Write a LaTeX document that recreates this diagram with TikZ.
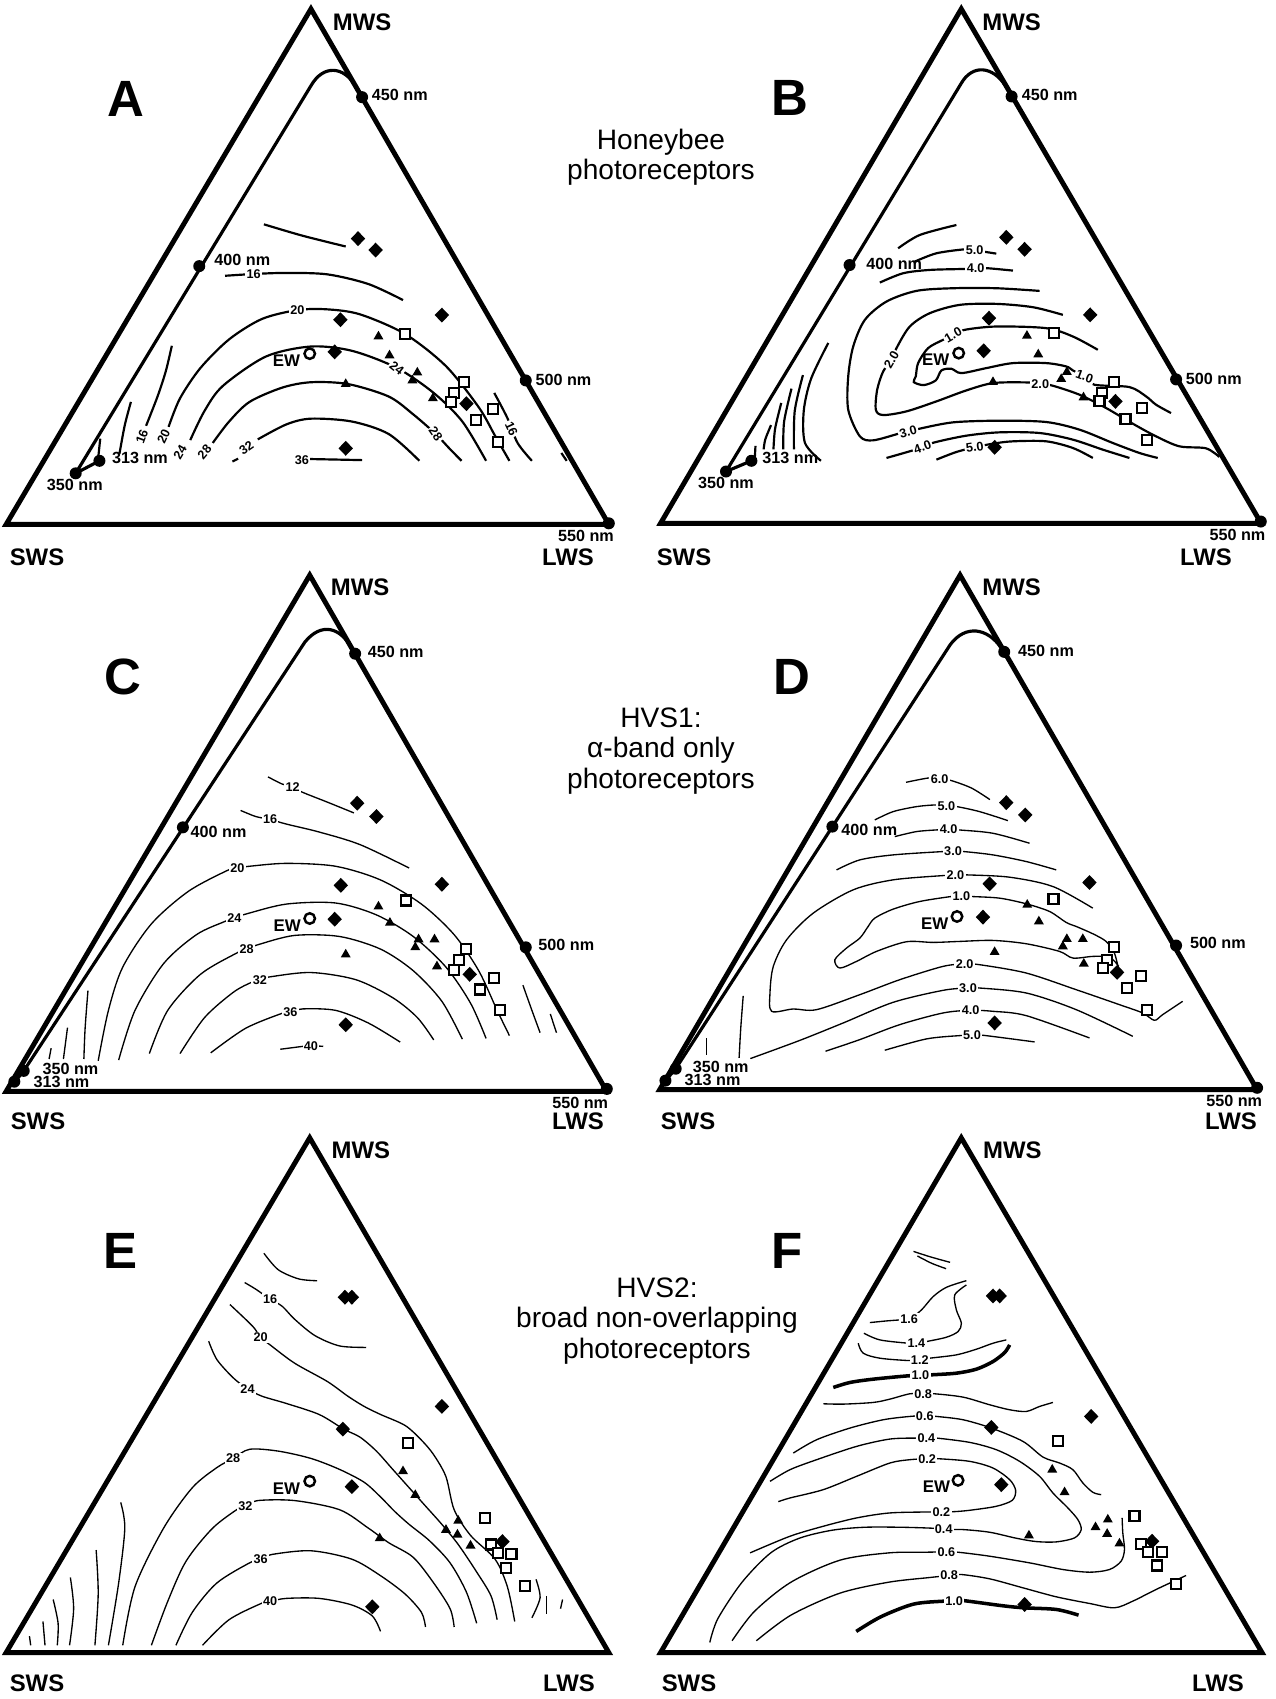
\documentclass[tikz,border=0pt]{standalone}
\usepackage{fontspec}
\setmainfont{Liberation Sans}
\usetikzlibrary{shapes.geometric}
\tikzset{
	frame/.style={line width=1.4pt, line join=miter},
	locus/.style={line width=0.9pt, line join=round},
	iso/.style={line width=0.38pt},
	isob/.style={line width=0.62pt},
	isoh/.style={line width=1pt},
	wdot/.style={circle, fill, inner sep=0pt, minimum size=0.12cm},
	dmd/.style={diamond, fill, inner sep=0pt, minimum width=0.15cm, minimum height=0.155cm},
	tri/.style={regular polygon, regular polygon sides=3, fill, inner sep=0pt, minimum size=0.115cm},
	sqr/.style={rectangle, draw, fill=white, line width=0.6pt, inner sep=0pt, minimum size=0.1cm},
	ewc/.style={circle, draw, fill=white, line width=0.7pt, inner sep=0pt, minimum size=0.105cm},
	ewl/.style={font=\bfseries\fontsize{4.8}{5}\selectfont, inner sep=0pt},
	vert/.style={font=\bfseries\fontsize{6.8}{7}\selectfont, inner sep=0pt},
	nm/.style={font=\bfseries\fontsize{4.6}{5}\selectfont, inner sep=0.5pt},
	clab/.style={font=\bfseries\fontsize{3.6}{4}\selectfont, fill=white, inner sep=0.4pt},
	tag/.style={font=\bfseries\fontsize{14.5}{16}\selectfont, inner sep=0pt},
	caption/.style={align=center, font=\fontsize{8}{8.6}\selectfont},
	rowtop/.style={x=0.004082cm, y=-0.003571cm},
	rowmid/.style={x=0.004082cm, y=-0.003603cm},
	rowbot/.style={x=0.004082cm, y=-0.003661cm},
	fine/.style={x=0.003333cm, y=-0.003333cm}
}
\begin{document}
\begin{tikzpicture}[x=0.01cm, y=-0.01cm]
	\useasboundingbox (0,0) rectangle (1276,1699);

	\node[caption] (cap-top) at (661,157) {Honeybee\\photoreceptors};
	\node[caption] (cap-mid) at (661,751) {HVS1:\\α-band only\\photoreceptors};
	\node[caption] (cap-bot) at (657,1321) {HVS2:\\broad non-overlapping\\photoreceptors};

	\node[vert] (A-sws) at (37,557) {SWS};
	\node[vert] (A-lws) at (568,557) {LWS};
	\node[vert] (B-sws) at (684,557) {SWS};
	\node[vert] (B-lws) at (1206,557) {LWS};
	\node[vert] (C-sws) at (38,1121) {SWS};
	\node[vert] (C-lws) at (578,1121) {LWS};
	\node[vert] (D-sws) at (688,1121) {SWS};
	\node[vert] (D-lws) at (1231,1121) {LWS};
	\node[vert] (E-sws) at (37,1683) {SWS};
	\node[vert] (E-lws) at (569,1683) {LWS};
	\node[vert] (F-sws) at (689,1683) {SWS};
	\node[vert] (F-lws) at (1218,1683) {LWS};

	% A
	\begin{scope}[shift={(0,0)}, rowtop]
		\draw[frame] (15,1468) -- (1488,1468) -- (760,25) -- cycle;
		\draw[locus] (243,1290) -- (185,1325) -- (760,240) .. controls (790,180) and (840,185) .. (868,240) -- (885,272);
		\draw[isob] plot[smooth] coordinates {(645,628) (740,660) (845,690)};
		\draw[isob] plot[smooth] coordinates {(550,772) (620,767) (700,764) (800,768) (900,795) (985,840)};
		\draw[isob] plot[smooth] coordinates {(420,968) (405,1040) (385,1110) (357,1192)};
		\draw[isob] plot[smooth] coordinates {(1208,1100) (1240,1170) (1265,1240) (1300,1290)};
		\draw[isob] plot[smooth] coordinates {(320,1125) (305,1190) (292,1270)};
		\draw[isob] (1372,1268) -- (1385,1290);
		\draw[isob] (245,1228) -- (240,1282);
		\draw[isob] plot[smooth] coordinates {(412,1195) (440,1115) (490,1030) (560,950) (640,893) (727,868) (800,866) (880,880) (990,935) (1090,1025) (1170,1140) (1210,1220) (1245,1290)};
		\draw[isob] plot[smooth] coordinates {(465,1232) (500,1150) (545,1080) (650,998) (760,970) (860,982) (970,1030) (1060,1100) (1130,1180) (1188,1290)};
		\draw[isob] plot[smooth] coordinates {(520,1240) (560,1180) (610,1125) (690,1085) (760,1070) (850,1075) (950,1110) (1010,1160) (1065,1215) (1098,1255) (1128,1290)};
		\draw[isob] plot[smooth] coordinates {(630,1230) (700,1188) (760,1172) (860,1180) (950,1215) (1025,1290)};
		\draw[isob] (568,1292) -- (582,1284);
		\draw[isob] (758,1285) -- (885,1288);
		\node[clab] (A-c16a) at (620,768) {16};
		\node[clab, rotate=70] (A-c16b) at (347,1222) {16};
		\node[clab, rotate=-65] (A-c16c) at (1250,1200) {16};
		\node[clab] (A-c20a) at (727,869) {20};
		\node[clab, rotate=65] (A-c20b) at (400,1222) {20};
		\node[clab, rotate=60] (A-c24a) at (440,1266) {24};
		\node[clab, rotate=-38] (A-c24b) at (970,1030) {24};
		\node[clab, rotate=50] (A-c28a) at (500,1265) {28};
		\node[clab, rotate=-55] (A-c28b) at (1065,1215) {28};
		\node[clab, rotate=35] (A-c32) at (602,1254) {32};
		\node[clab] (A-c36) at (738,1287) {36};
		\foreach \x/\y/\n in {185/1325/350, 243/1290/313, 487/745/400, 885/272/450, 1285/1065/500, 1488/1465/550}
			\node[wdot] (A-\n) at (\x,\y) {};
		\node[nm, anchor=west] (A-l450) at (903,267) {450 nm};
		\node[nm, anchor=west] (A-l400) at (518,727) {400 nm};
		\node[nm, anchor=west] (A-l500) at (1303,1063) {500 nm};
		\node[nm, anchor=west] (A-l313) at (268,1283) {313 nm};
		\node[nm] (A-l350) at (183,1357) {350 nm};
		\node[nm] (A-l550) at (1432,1500) {550 nm};
		\node[vert] (A-mws) at (885,62) {MWS};
		\node[tag] (A-tag) at (307,278) {A};
		\foreach \x/\y [count=\i] in {875/668, 918/700, 1080/882, 832/895, 818/985, 1140/1130, 845/1255}
			\node[dmd] (A-d\i) at (\x,\y) {};
		\foreach \x/\y [count=\i] in {925/942, 952/995, 1020/1043, 1008/1065, 845/1075, 1058/1115}
			\node[tri] (A-t\i) at (\x,\y) {};
		\foreach \x/\y [count=\i] in {990/936, 1135/1070, 1110/1100, 1103/1125, 1205/1145, 1163/1175, 1218/1237}
			\node[sqr] (A-s\i) at (\x,\y) {};
		\node[ewc] (A-ew) at (757,990) {};
		\node[ewl] (A-ewl) at (700,1010) {EW};
	\end{scope}

	% B
	\begin{scope}[shift={(636,0)}, rowtop]
		\draw[frame] (60,1465) -- (1528,1465) -- (795,25) -- cycle;
		\draw[locus] (282,1290) -- (220,1320) -- (794,235) .. controls (822,178) and (872,185) .. (903,240) -- (918,270);
		\draw[isob] (292,1248) -- (290,1290);
		\draw[isob] plot[smooth] coordinates {(330,1190) (316,1230) (312,1258)};
		\draw[isob] plot[smooth] coordinates {(355,1128) (340,1200) (336,1258)};
		\draw[isob] plot[smooth] coordinates {(380,1088) (362,1180) (360,1258)};
		\draw[isob] plot[smooth] coordinates {(408,1050) (388,1150) (386,1258)};
		\draw[isob] plot[smooth] coordinates {(470,960) (428,1060) (410,1150) (413,1240) (452,1290)};
		\foreach \x/\y/\n in {220/1320/350, 282/1290/313, 522/742/400, 918/270/450, 1320/1062/500, 1527/1460/550}
			\node[wdot] (B-\n) at (\x,\y) {};
		\node[nm, anchor=west] (B-l450) at (937,265) {450 nm};
		\node[nm, anchor=west] (B-l400) at (557,740) {400 nm};
		\node[nm, anchor=west] (B-l500) at (1338,1060) {500 nm};
		\node[nm, anchor=west] (B-l313) at (303,1282) {313 nm};
		\node[nm] (B-l350) at (220,1352) {350 nm};
		\node[nm] (B-l550) at (1470,1498) {550 nm};
		\node[vert] (B-mws) at (918,62) {MWS};
		\node[tag] (B-tag) at (375,275) {B};
	\end{scope}
	\begin{scope}[shift={(780,220)}, fine]
		\draw[isob] plot[smooth] coordinates {(355,85) (420,45) (530,15)};
		\draw[isob] plot[smooth] coordinates {(405,125) (470,100) (555,88) (585,90) (612,95) (650,101)};
		\draw[isob] plot[smooth] coordinates {(300,188) (370,160) (450,150) (555,147) (588,145) (625,145) (700,152)};
		\draw[isob] plot[smooth] coordinates {(780,213) (650,205) (520,205) (410,213) (320,245) (255,300) (220,380) (205,470) (205,570) (240,650) (280,662) (360,641) (385,636) (415,628) (520,608) (660,603) (800,607) (900,630) (1000,670) (1080,700) (1135,715)};
		\draw[isob] plot[smooth] coordinates {(850,285) (760,262) (650,252) (540,255) (450,280) (390,320) (350,385) (335,420) (310,455) (292,510) (288,570) (310,586) (380,575) (470,545) (560,512) (640,490) (740,488) (782,492) (820,498) (900,525) (980,565) (1060,612) (1130,650) (1200,680) (1280,686) (1320,712)};
		\draw[isob] plot[smooth] coordinates {(955,390) (880,350) (800,325) (650,320) (555,330) (520,345) (490,360) (445,385) (415,430) (408,470) (402,487) (432,496) (468,482) (485,452) (515,447) (545,460) (620,445) (700,430) (800,430) (860,440) (880,452) (915,470) (945,495) (1050,502) (1100,530) (1130,555) (1175,580)};
		\draw[isob] plot[smooth] coordinates {(320,715) (400,692) (428,682) (465,668) (560,648) (660,638) (780,640) (880,660) (970,690) (1050,715)};
		\draw[isob] plot[smooth] coordinates {(470,720) (530,697) (585,683) (640,672) (700,665) (800,665) (880,685) (940,715)};
		\node[clab] (B-c5a) at (585,90) {5.0};
		\node[clab] (B-c4a) at (588,145) {4.0};
		\node[clab, rotate=15] (B-c3) at (385,636) {3.0};
		\node[clab, rotate=60] (B-c2a) at (335,420) {2.0};
		\node[clab] (B-c2b) at (782,492) {2.0};
		\node[clab, rotate=30] (B-c1a) at (520,345) {1.0};
		\node[clab, rotate=-20] (B-c1b) at (915,470) {1.0};
		\node[clab, rotate=20] (B-c4b) at (428,682) {4.0};
		\node[clab, rotate=8] (B-c5b) at (585,683) {5.0};
		\foreach \x/\y [count=\i] in {680/52, 735/88, 932/285, 628/295, 612/393, 1008/545, 645/683}
			\node[dmd] (B-d\i) at (\x,\y) {};
		\foreach \x/\y [count=\i] in {742/348, 776/404, 862/457, 845/478, 640/487, 912/533}
			\node[tri] (B-t\i) at (\x,\y) {};
		\foreach \x/\y [count=\i] in {822/340, 1003/487, 968/520, 960/543, 1088/565, 1038/598, 1103/662}
			\node[sqr] (B-s\i) at (\x,\y) {};
		\node[ewc] (B-ew) at (537,400) {};
		\node[ewl] (B-ewl) at (468,420) {EW};
	\end{scope}

	% C
	\begin{scope}[shift={(0,560)}, rowmid]
		\draw[frame] (15,1475) -- (1483,1475) -- (757,42) -- cycle;
		\draw[locus] (35,1450) -- (58,1418) -- (745,228) .. controls (785,172) and (832,185) .. (861,248) -- (868,260);
		\draw[iso] plot[smooth] coordinates {(655,602) (690,622) (715,630) (740,645) (800,672) (865,702)};
		\draw[iso] plot[smooth] coordinates {(588,695) (625,712) (660,720) (700,733) (780,755) (880,790) (1000,855)};
		\draw[iso] plot[smooth] coordinates {(240,1390) (265,1250) (300,1130) (370,1010) (460,920) (555,862) (580,855) (610,850) (700,842) (820,850) (930,888) (1030,955) (1110,1040) (1170,1140) (1215,1250) (1245,1320)};
		\draw[iso] plot[smooth] coordinates {(290,1388) (330,1250) (400,1120) (480,1040) (550,1003) (573,993) (600,983) (700,955) (820,952) (920,985) (1010,1045) (1090,1130) (1150,1230) (1188,1328)};
		\draw[iso] plot[smooth] coordinates {(365,1370) (410,1250) (490,1150) (580,1090) (603,1080) (630,1068) (720,1042) (830,1045) (930,1080) (1010,1140) (1080,1225) (1130,1330)};
		\draw[iso] plot[smooth] coordinates {(440,1370) (500,1270) (570,1200) (615,1172) (635,1165) (660,1157) (760,1145) (870,1165) (960,1215) (1020,1270) (1060,1332)};
		\draw[iso] plot[smooth] coordinates {(515,1368) (600,1300) (690,1258) (710,1255) (740,1246) (820,1250) (900,1285) (978,1338)};
		\draw[iso] plot[smooth] coordinates {(685,1358) (740,1350) (760,1348) (790,1350)};
		\draw[iso] plot[smooth] coordinates {(215,1195) (208,1300) (205,1385)};
		\draw[iso] (165,1298) -- (155,1385);
		\draw[iso] (125,1355) -- (120,1385);
		\draw[iso] plot[smooth] coordinates {(1278,1180) (1300,1250) (1320,1312)};
		\draw[iso] (1345,1260) -- (1360,1312);
		\node[clab] (C-c12) at (715,630) {12};
		\node[clab] (C-c16) at (660,720) {16};
		\node[clab] (C-c20) at (580,855) {20};
		\node[clab] (C-c24) at (573,993) {24};
		\node[clab] (C-c28) at (603,1080) {28};
		\node[clab] (C-c32) at (635,1165) {32};
		\node[clab] (C-c36) at (710,1255) {36};
		\node[clab] (C-c40) at (760,1348) {40};
		\foreach \x/\y/\n in {58/1418/350, 35/1448/313, 447/742/400, 868/260/450, 1285/1075/500, 1483/1468/550}
			\node[wdot] (C-\n) at (\x,\y) {};
		\node[nm, anchor=west] (C-l450) at (893,255) {450 nm};
		\node[nm, anchor=west] (C-l400) at (460,755) {400 nm};
		\node[nm, anchor=west] (C-l500) at (1310,1068) {500 nm};
		\node[nm, anchor=west] (C-l350) at (98,1413) {350 nm};
		\node[nm, anchor=west] (C-l313) at (76,1450) {313 nm};
		\node[nm] (C-l550) at (1418,1508) {550 nm};
		\node[vert] (C-mws) at (880,75) {MWS};
		\node[tag] (C-tag) at (300,325) {C};
		\foreach \x/\y [count=\i] in {873/675, 920/712, 1080/900, 833/903, 818/997, 1148/1150, 845/1290}
			\node[dmd] (C-d\i) at (\x,\y) {};
		\foreach \x/\y [count=\i] in {925/962, 953/1007, 1023/1053, 1062/1053, 1015/1075, 845/1095, 1068/1128}
			\node[tri] (C-t\i) at (\x,\y) {};
		\foreach \x/\y [count=\i] in {993/945, 1140/1080, 1122/1110, 1110/1138, 1208/1160, 1173/1192, 1222/1250}
			\node[sqr] (C-s\i) at (\x,\y) {};
		\node[ewc] (C-ew) at (757,995) {};
		\node[ewl] (C-ewl) at (702,1015) {EW};
	\end{scope}

	% D
	\begin{scope}[shift={(636,560)}, rowmid]
		\draw[frame] (58,1470) -- (1518,1470) -- (792,42) -- cycle;
		\draw[locus] (72,1445) -- (97,1412) -- (768,235) .. controls (805,178) and (860,188) .. (893,245) -- (900,255);
		\draw[iso] (172,1328) -- (172,1375);
		\draw[iso] plot[smooth] coordinates {(262,1210) (256,1300) (252,1382)};
		\draw[iso] plot[smooth] coordinates {(660,617) (715,605) (742,607) (770,612) (820,633) (865,665)};
		\node[clab] (D-c6) at (742,607) {6.0};
		\foreach \x/\y/\n in {97/1412/350, 72/1445/313, 480/740/400, 900/255/450, 1320/1070/500, 1518/1465/550}
			\node[wdot] (D-\n) at (\x,\y) {};
		\node[nm, anchor=west] (D-l450) at (928,252) {450 nm};
		\node[nm, anchor=west] (D-l400) at (496,748) {400 nm};
		\node[nm, anchor=west] (D-l500) at (1348,1062) {500 nm};
		\node[nm, anchor=west] (D-l350) at (133,1408) {350 nm};
		\node[nm, anchor=west] (D-l313) at (113,1443) {313 nm};
		\node[nm] (D-l550) at (1462,1502) {550 nm};
		\node[vert] (D-mws) at (918,75) {MWS};
		\node[tag] (D-tag) at (380,325) {D};
	\end{scope}
	\begin{scope}[shift={(760,780)}, fine]
		\draw[iso] plot[smooth] coordinates {(345,120) (400,95) (470,80) (525,75) (560,77) (592,80) (660,95) (745,122)};
		\draw[iso] plot[smooth] coordinates {(405,170) (470,155) (530,150) (567,148) (598,150) (700,160) (810,190)};
		\draw[iso] plot[smooth] coordinates {(230,270) (300,240) (400,225) (550,215) (580,215) (612,215) (700,225) (800,245) (890,270)};
		\draw[iso] plot[smooth] coordinates {(1000,385) (880,320) (750,292) (620,285) (587,285) (552,287) (400,300) (280,330) (160,400) (80,480) (40,560) (30,640) (35,695) (100,688) (170,690) (300,645) (420,600) (550,560) (615,553) (660,555) (800,580) (950,630) (1080,675) (1150,700) (1185,722) (1210,705) (1270,665)};
		\draw[iso] plot[smooth] coordinates {(1080,580) (1065,520) (1040,485) (1000,462) (950,440) (920,428) (870,395) (800,372) (720,355) (635,350) (605,348) (575,350) (480,365) (400,388) (345,415) (325,440) (300,475) (260,505) (225,540) (240,565) (290,545) (350,515) (440,486) (520,488) (600,485) (700,482) (800,492) (900,515) (940,535) (1000,530) (1050,532) (1078,560)};
		\draw[iso] plot[smooth] coordinates {(-29,837) (118,783) (250,730) (400,668) (550,632) (625,625) (660,625) (800,640) (950,690) (1120,770)};
		\draw[iso] plot[smooth] coordinates {(197,815) (300,780) (420,735) (550,700) (633,692) (700,695) (800,708) (990,775)};
		\draw[iso] plot[smooth] coordinates {(375,812) (500,778) (600,768) (637,767) (670,767) (825,787)};
		\node[clab] (D-c5a) at (560,77) {5.0};
		\node[clab] (D-c4a) at (567,148) {4.0};
		\node[clab] (D-c3a) at (580,215) {3.0};
		\node[clab] (D-c2a) at (587,285) {2.0};
		\node[clab] (D-c1) at (605,348) {1.0};
		\node[clab] (D-c2b) at (615,553) {2.0};
		\node[clab] (D-c3b) at (625,625) {3.0};
		\node[clab] (D-c4b) at (633,692) {4.0};
		\node[clab] (D-c5b) at (637,767) {5.0};
		\foreach \x/\y [count=\i] in {740/68, 797/105, 990/308, 690/312, 670/412, 1073/578, 705/730}
			\node[dmd] (D-d\i) at (\x,\y) {};
		\foreach \x/\y [count=\i] in {803/375, 838/425, 922/478, 970/478, 910/500, 705/517, 973/552}
			\node[tri] (D-t\i) at (\x,\y) {};
		\foreach \x/\y [count=\i] in {882/357, 1063/503, 1043/540, 1030/565, 1145/590, 1103/625, 1163/690}
			\node[sqr] (D-s\i) at (\x,\y) {};
		\node[ewc] (D-ew) at (592,410) {};
		\node[ewl] (D-ewl) at (525,432) {EW};
	\end{scope}

	% E
	\begin{scope}[shift={(0,1125)}, rowbot]
		\draw[frame] (15,1440) -- (1488,1440) -- (757,35) -- cycle;
		\draw[iso] plot[smooth] coordinates {(645,350) (680,395) (730,420) (775,425)};
		\draw[iso] plot[smooth] coordinates {(598,430) (625,448) (660,475) (690,495) (720,530) (770,575) (830,603) (895,607)};
		\draw[iso] plot[smooth] coordinates {(562,490) (600,530) (622,555) (637,580) (660,600) (720,650) (800,700) (850,740) (890,768) (930,790) (990,820) (1030,860) (1060,900) (1090,960) (1110,1050) (1150,1120) (1210,1185) (1240,1260) (1258,1355)};
		\draw[iso] plot[smooth] coordinates {(510,590) (530,640) (570,690) (605,720) (640,740) (700,760) (780,790) (840,830) (880,852) (920,890) (960,940) (1000,990) (1040,1040) (1080,1090) (1120,1145) (1165,1220) (1200,1285) (1215,1350)};
		\draw[iso] plot[smooth] coordinates {(300,1420) (330,1260) (400,1100) (470,990) (530,935) (570,910) (610,885) (680,890) (760,910) (830,940) (890,975) (930,1015) (965,1055) (1000,1090) (1050,1135) (1100,1195) (1140,1275) (1165,1360)};
		\draw[iso] plot[smooth] coordinates {(370,1420) (410,1300) (455,1190) (520,1100) (585,1045) (600,1040) (630,1025) (720,1025) (830,1050) (900,1100) (950,1140) (1010,1180) (1060,1250) (1100,1320) (1110,1370)};
		\draw[iso] plot[smooth] coordinates {(430,1420) (470,1330) (530,1250) (610,1195) (637,1185) (665,1172) (760,1162) (860,1185) (930,1230) (990,1280) (1030,1330) (1040,1370)};
		\draw[iso] plot[smooth] coordinates {(495,1420) (560,1350) (640,1305) (660,1300) (700,1292) (780,1292) (860,1310) (910,1340) (930,1382)};
		\draw[iso] plot[smooth] coordinates {(295,1030) (305,1100) (290,1250) (265,1420)};
		\draw[iso] plot[smooth] coordinates {(235,1160) (240,1280) (232,1420)};
		\draw[iso] plot[smooth] coordinates {(172,1235) (180,1320) (170,1420)};
		\draw[iso] plot[smooth] coordinates {(130,1295) (142,1360) (140,1420)};
		\draw[iso] (105,1355) -- (110,1420);
		\draw[iso] (72,1395) -- (75,1420);
		\draw[iso] plot[smooth] coordinates {(1310,1240) (1320,1290) (1300,1345)};
		\draw[iso] (1335,1285) -- (1335,1335);
		\draw[iso] (1375,1295) -- (1370,1320);
		\node[clab] (E-c16) at (660,475) {16};
		\node[clab] (E-c20) at (637,580) {20};
		\node[clab] (E-c24) at (605,720) {24};
		\node[clab] (E-c28) at (570,910) {28};
		\node[clab] (E-c32) at (600,1040) {32};
		\node[clab] (E-c36) at (637,1185) {36};
		\node[clab] (E-c40) at (660,1300) {40};
		\node[vert] (E-mws) at (882,68) {MWS};
		\node[tag] (E-tag) at (295,345) {E};
		\foreach \x/\y [count=\i] in {843/470, 860/470, 1080/768, 838/830, 860/987, 1228/1137, 910/1315}
			\node[dmd] (E-d\i) at (\x,\y) {};
		\foreach \x/\y [count=\i] in {985/945, 1015/1010, 1120/1080, 1090/1105, 1118/1118, 1150/1148, 928/1128}
			\node[tri] (E-t\i) at (\x,\y) {};
		\foreach \x/\y [count=\i] in {998/868, 1185/1073, 1200/1145, 1218/1168, 1250/1170, 1237/1210, 1283/1258}
			\node[sqr] (E-s\i) at (\x,\y) {};
		\node[ewc] (E-ew) at (757,972) {};
		\node[ewl] (E-ewl) at (700,993) {EW};
	\end{scope}

	% F
	\begin{scope}[shift={(636,1125)}, rowbot]
		\draw[frame] (60,1440) -- (1530,1440) -- (795,35) -- cycle;
		\node[vert] (F-mws) at (920,68) {MWS};
		\node[tag] (F-tag) at (370,345) {F};
	\end{scope}
	\begin{scope}[shift={(790,1260)}, fine]
		\draw[iso] plot[smooth] coordinates {(371,-26) (420,-10) (481,7)};
		\draw[iso] plot[smooth] coordinates {(383,-12) (426,10) (469,26)};
		\draw[iso] plot[smooth] coordinates {(240,188) (290,183) (330,180) (358,178) (395,150) (430,110) (470,82) (530,62)};
		\draw[iso] plot[smooth] coordinates {(222,220) (270,240) (355,250) (380,250) (410,245) (470,232) (505,215) (515,190) (500,150) (495,105) (530,75)};
		\draw[iso] plot[smooth] coordinates {(205,250) (220,280) (270,295) (355,302) (390,300) (420,295) (500,285) (560,268) (610,250) (650,240)};
		\draw[isoh] plot[smooth] coordinates {(130,383) (180,368) (250,358) (355,348) (392,347) (425,345) (500,340) (560,328) (610,305) (645,278) (660,255)};
		\draw[iso] plot[smooth] coordinates {(100,432) (160,433) (250,428) (300,418) (360,402) (400,402) (435,402) (520,412) (600,435) (660,450) (710,455) (750,440) (790,428)};
		\draw[iso] plot[smooth] coordinates {(10,580) (80,540) (180,505) (280,480) (360,470) (405,468) (440,470) (520,480) (605,505) (700,545) (760,592) (810,610) (850,630) (880,670) (910,698) (935,705)};
		\draw[iso] plot[smooth] coordinates {(-60,665) (0,630) (80,600) (200,560) (300,538) (380,535) (410,535) (440,535) (540,548) (620,570) (690,605) (750,650) (790,700) (835,745) (865,780) (875,810) (855,835) (800,847) (740,846) (680,836) (600,818) (520,810) (462,810) (430,806) (334,803) (224,803) (126,812) (28,836) (-58,880) (-144,968) (-217,1078) (-241,1149)};
		\draw[iso] plot[smooth] coordinates {(-35,726) (0,715) (100,690) (200,650) (300,610) (360,600) (412,597) (445,597) (540,605) (610,625) (660,660) (678,692) (668,722) (620,740) (540,752) (495,756) (455,757) (425,757) (300,760) (200,775) (100,800) (0,830) (-120,880)};
		\draw[iso] plot[smooth] coordinates {(-174,1144) (-107,1056) (3,968) (150,902) (297,880) (407,878) (470,877) (505,878) (600,890) (720,910) (820,930) (900,938) (960,930) (995,905) (1005,870) (1000,820) (998,775)};
		\draw[iso] plot[smooth] coordinates {(-101,1144) (3,1067) (150,1001) (297,968) (420,954) (478,948) (515,945) (600,958) (700,985) (800,1012) (900,1032) (975,1045) (1030,1025) (1100,990) (1190,948)};
		\draw[isoh] plot[smooth] coordinates {(199,1116) (273,1072) (371,1034) (463,1025) (493,1024) (518,1023) (640,1039) (702,1045) (800,1050) (867,1067)};
		\node[clab] (F-c16) at (358,178) {1.6};
		\node[clab] (F-c14) at (380,250) {1.4};
		\node[clab] (F-c12) at (390,300) {1.2};
		\node[clab] (F-c10a) at (392,347) {1.0};
		\node[clab] (F-c08a) at (400,402) {0.8};
		\node[clab] (F-c06a) at (405,468) {0.6};
		\node[clab] (F-c04a) at (410,535) {0.4};
		\node[clab] (F-c02a) at (412,597) {0.2};
		\node[clab] (F-c02b) at (455,757) {0.2};
		\node[clab] (F-c04b) at (462,810) {0.4};
		\node[clab] (F-c06b) at (470,877) {0.6};
		\node[clab] (F-c08b) at (478,948) {0.8};
		\node[clab] (F-c10b) at (493,1024) {1.0};
		\foreach \x/\y [count=\i] in {610/108, 630/108, 905/470, 605/503, 635/675, 1088/845, 705/1035}
			\node[dmd] (F-d\i) at (\x,\y) {};
		\foreach \x/\y [count=\i] in {788/630, 825/698, 955/780, 918/803, 953/823, 990/852, 718/828}
			\node[tri] (F-t\i) at (\x,\y) {};
		\foreach \x/\y [count=\i] in {805/545, 1035/770, 1055/852, 1075/877, 1118/877, 1102/918, 1160/973}
			\node[sqr] (F-s\i) at (\x,\y) {};
		\node[ewc] (F-ew) at (505,662) {};
		\node[ewl] (F-ewl) at (440,680) {EW};
	\end{scope}
\end{tikzpicture}
\end{document}
